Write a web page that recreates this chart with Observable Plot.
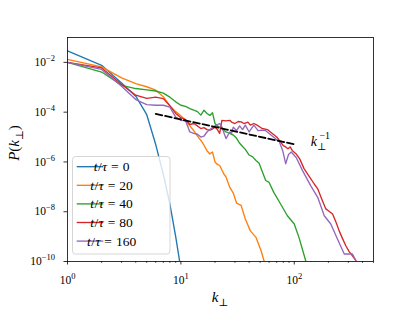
<!DOCTYPE html>
<html><head><meta charset="utf-8">
<script src="https://cdn.jsdelivr.net/npm/d3@7"></script>
<script src="https://cdn.jsdelivr.net/npm/@observablehq/plot@0.6"></script>
<style>body{margin:0;background:#fff}</style>
</head><body><div id="chart"></div>
<script>
// ---- data ----
const seriesLabels = ["0", "20", "40", "80", "160"];
const colors = ["#1f77b4", "#ff7f0e", "#2ca02c", "#d62728", "#9467bd"];

const k0 = [1, 2, 3, 4, 5, 6, 7, 8, 9, 10];
const p0 = [2.9e-2, 7.6e-3, 1.5e-3, 4.4e-4, 7.9e-5, 5.0e-6, 3.2e-7, 2.0e-8, 1.0e-9, 5.0e-11];

const k20 = [1, 2, 3, 4, 5, 6, 7, 8, 9, 10, 11, 12, 13, 14, 15, 16, 17, 18, 19, 20, 21, 22, 24, 25, 27, 29, 31, 34, 37, 41, 46, 51, 54, 56];
const p20 = [1.32e-2, 6.6e-3, 2.4e-3, 1.41e-3, 1.05e-3, 7.6e-4, 4.2e-4, 1.8e-4, 1.05e-4, 7.1e-5, 4.7e-5, 2.8e-5, 1.8e-5, 1.1e-5, 7.4e-6, 4.7e-6, 2.8e-6, 2.1e-6, 2.5e-6, 1.0e-6, 7.9e-7, 7.2e-7, 3.2e-7, 2.5e-7, 9.5e-8, 5.6e-8, 2.2e-8, 1.8e-8, 5.1e-9, 1.7e-9, 9.3e-10, 2.7e-10, 1.1e-10, 6.3e-11];

const k40 = [1, 2, 3, 4, 5, 6, 7, 8, 9, 10, 11, 12, 13, 14, 15, 16, 17, 18, 19, 20, 21, 23, 25, 27, 29, 31, 33, 35, 37, 40, 43, 46, 49, 51, 56, 60, 66, 76, 87, 100, 110, 126, 130];
const p40 = [1.0e-2, 4.1e-3, 1.2e-3, 8.9e-4, 7.9e-4, 7.1e-4, 5.8e-4, 4.0e-4, 2.6e-4, 1.9e-4, 1.7e-4, 1.4e-4, 1.2e-4, 1.05e-4, 7.6e-5, 1.2e-4, 8.9e-5, 7.4e-5, 9.5e-5, 3.5e-5, 2.8e-5, 2.2e-5, 1.6e-5, 1.4e-5, 1.2e-5, 8.9e-6, 5.6e-6, 4.2e-6, 3.2e-6, 1.9e-6, 1.6e-6, 1.15e-6, 8.9e-7, 5.4e-7, 1.8e-7, 1.5e-7, 6.0e-8, 2.0e-8, 6.9e-9, 3.2e-9, 9.3e-10, 1.1e-10, 6.3e-11];

const k80 = [1, 2, 3, 4, 5, 6, 7, 8, 9, 10, 11, 12, 13, 14, 15, 16, 17, 18, 19, 20, 21, 22, 23, 25, 27, 28, 30, 32, 34, 36, 39, 41, 44, 47, 52, 58, 64, 70, 74, 80, 84, 88, 92, 96, 104, 112, 122, 130, 140, 150, 161, 175, 190, 205, 218, 235, 249, 265, 285, 305, 326, 349, 360];
const p80 = [1.0e-2, 6.0e-3, 1.3e-3, 4.8e-4, 3.6e-4, 4.0e-4, 3.5e-4, 1.8e-4, 8.9e-5, 6.0e-5, 5.0e-5, 3.2e-5, 3.5e-5, 2.8e-5, 2.2e-5, 2.4e-5, 2.0e-5, 1.9e-5, 2.1e-5, 2.5e-5, 2.0e-5, 1.4e-5, 4.7e-5, 4.5e-5, 4.7e-5, 4.0e-5, 3.5e-5, 4.2e-5, 4.1e-5, 3.5e-5, 4.0e-5, 3.0e-5, 3.5e-5, 3.0e-5, 2.2e-5, 2.0e-5, 1.4e-5, 1.0e-5, 7.4e-6, 4.5e-6, 4.0e-6, 3.4e-6, 4.0e-6, 2.9e-6, 2.1e-6, 1.3e-6, 5.4e-7, 3.5e-7, 2.1e-7, 1.3e-7, 8.3e-8, 3.2e-8, 1.3e-8, 1.0e-8, 8.1e-9, 3.5e-9, 1.7e-9, 8.9e-10, 4.3e-10, 2.5e-10, 1.7e-10, 1.1e-10, 6.3e-11];

const k160 = [1, 2, 3, 4, 5, 6, 7, 8, 9, 10, 11, 12, 13, 14, 15, 16, 17, 18, 20, 22, 23, 25, 27, 28, 29, 31, 33, 35, 37, 40, 44, 48, 52, 56, 60, 68, 74, 79, 84, 89, 94, 104, 118, 140, 161, 184, 210, 241, 276, 300, 326, 349, 360];
const p160 = [1.0e-2, 5.2e-3, 1.1e-3, 3.2e-4, 2.0e-4, 1.9e-4, 1.9e-4, 1.6e-4, 6.3e-5, 4.7e-5, 4.5e-5, 1.6e-5, 1.4e-5, 1.3e-5, 1.0e-5, 1.1e-5, 1.6e-5, 2.0e-5, 2.8e-5, 3.5e-5, 2.5e-5, 8.7e-6, 1.6e-5, 1.4e-5, 2.5e-5, 1.8e-5, 2.8e-5, 2.0e-5, 3.0e-5, 1.6e-5, 3.0e-5, 1.8e-5, 1.9e-5, 1.8e-5, 1.4e-5, 8.7e-6, 6.3e-6, 2.9e-6, 8.5e-7, 2.0e-6, 2.5e-6, 1.5e-6, 4.6e-7, 1.1e-7, 3.8e-8, 6.9e-9, 3.2e-9, 7.9e-10, 2.0e-10, 2.0e-10, 2.0e-10, 1.1e-10, 6.3e-11];

// reference k^-1 slope line
const dashK = [6, 100];
const dashP = [8.5e-5, 5.1e-6];
// annotation position
const labelK = [140];
const labelP = [6.8e-6];

// ticks
const xMajor = [1, 10, 100];
const xMinor = [2, 3, 4, 5, 6, 7, 8, 9, 20, 30, 40, 50, 60, 70, 80, 90, 200, 300, 400, 500];
const yMajor = [1e-10, 1e-8, 1e-6, 1e-4, 1e-2];

// ---- build ----
const FONT = "'Liberation Serif', 'DejaVu Serif', serif";
const kArr = [k0, k20, k40, k80, k160];
const pArr = [p0, p20, p40, p80, p160];
const series = kArr.map((ks, i) => ks.map((k, j) => ({k, p: pArr[i][j]})));
const dash = dashK.map((k, i) => ({k, p: dashP[i]}));
const label = labelK.map((k, i) => ({k, p: labelP[i]}));
const expFmt = d => "10^" + String(Math.round(Math.log10(d))).replace("-", "\u2212");

const chart = Plot.plot({
  width: 415, height: 311,
  marginLeft: 67, marginRight: 42, marginTop: 37, marginBottom: 50,
  style: {fontFamily: FONT, background: "white", color: "black"},
  x: {type: "log", domain: [1, 500]},
  y: {type: "log", domain: [1e-10, 1e-1]},
  marks: [
    ...series.map((d, i) => Plot.line(d, {x: "k", y: "p", stroke: colors[i], strokeWidth: 1.35, clip: true})),
    Plot.line(dash, {x: "k", y: "p", stroke: "black", strokeWidth: 1.8, strokeDasharray: "6.7,2.9"}),
    Plot.text(label, {x: "k", y: "p", text: () => "KPERPLABEL", textAnchor: "start", fontSize: 14}),
    Plot.axisX(xMajor, {tickSize: 3.5, tickPadding: 11, tickFormat: expFmt, label: null, fontSize: 11.5, strokeWidth: 0.8}),
    Plot.axisX(xMinor, {tickSize: 2, tickFormat: () => "", label: null, strokeWidth: 0.6}),
    Plot.axisY(yMajor, {tickSize: 3.5, tickPadding: 9, tickFormat: expFmt, label: null, fontSize: 11.5, strokeWidth: 0.8}),
    Plot.frame({stroke: "black", strokeWidth: 0.8})
  ]
});
document.getElementById("chart").appendChild(chart);

// ---- rich text helpers ----
const NS = "http://www.w3.org/2000/svg";
function rich(t, segs) {
  t.textContent = "";
  for (const s of segs) {
    const ts = document.createElementNS(NS, "tspan");
    ts.textContent = s.t;
    if (s.it) ts.setAttribute("font-style", "italic");
    if (s.fs) ts.setAttribute("font-size", s.fs);
    if (s.dy) ts.setAttribute("dy", s.dy);
    if (s.dx) ts.setAttribute("dx", s.dx);
    t.appendChild(ts);
  }
}
chart.querySelectorAll("text").forEach(t => {
  const s = t.textContent;
  const m = s.match(/^10\^(.+)$/);
  if (m) rich(t, [{t: "10"}, {t: m[1], fs: 8.5, dy: -5}]);
  else if (s === "KPERPLABEL") rich(t, [{t: "k", it: true}, {t: "\u22A5", fs: 10, dy: 4}, {t: "\u22121", fs: 10, dy: -11, dx: -7}]);
});

const svg = d3.select(chart);
// axis labels
const xl = svg.append("text").attr("x", 220).attr("y", 302).attr("text-anchor", "middle")
  .attr("font-size", 15).attr("font-family", FONT).attr("fill", "black");
rich(xl.node(), [{t: "k", it: true}, {t: "\u22A5", fs: 10.5, dy: 4}]);
const yl = svg.append("text").attr("transform", "translate(19,143) rotate(-90)").attr("text-anchor", "middle")
  .attr("font-size", 15).attr("font-family", FONT).attr("fill", "black");
rich(yl.node(), [{t: "P", it: true}, {t: "("}, {t: "k", it: true}, {t: "\u22A5", fs: 10.5, dy: 4}, {t: ")", dy: -4}]);

// legend
const lg = svg.append("g");
lg.append("rect").attr("x", 72.5).attr("y", 156.5).attr("width", 97.5).attr("height", 97.5)
  .attr("rx", 3).attr("fill", "white").attr("fill-opacity", 0.8).attr("stroke", "#cccccc").attr("stroke-width", 0.8);
seriesLabels.forEach((lab, i) => {
  const y = 166.7 + i * 18.6;
  lg.append("line").attr("x1", 76.7).attr("x2", 103.3).attr("y1", y).attr("y2", y)
    .attr("stroke", colors[i]).attr("stroke-width", 1.35);
  const t = lg.append("text").attr("x", 111.5).attr("y", y + 4.5).attr("font-size", 13.5)
    .attr("font-family", FONT).attr("fill", "black");
  rich(t.node(), [{t: "t", it: true}, {t: "/", dx: 0.5}, {t: "\u03C4", it: true, dx: 0.5}, {t: "=", dx: 4}, {t: lab, dx: 4}]);
});
</script></body></html>
